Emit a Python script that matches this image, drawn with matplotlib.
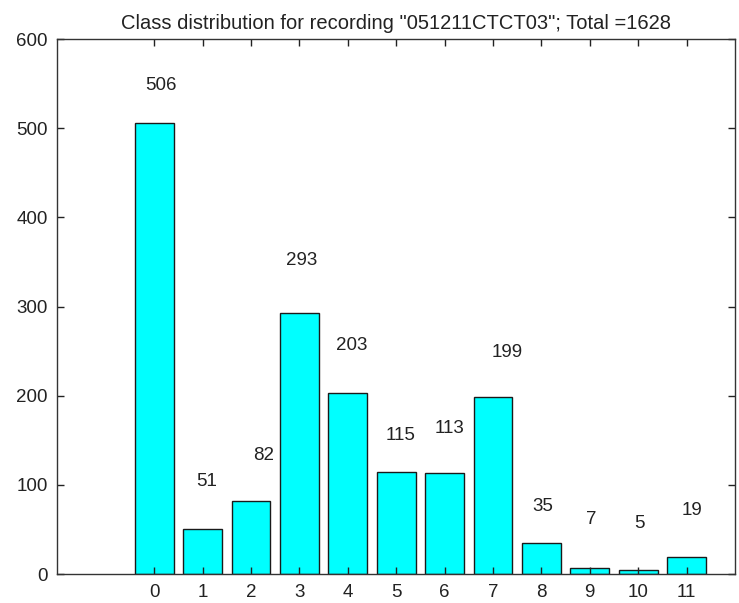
import matplotlib
matplotlib.use("Agg")
import matplotlib.pyplot as plt

# class counts
CLASSES = [0, 1, 2, 3, 4, 5, 6, 7, 8, 9, 10, 11]
COUNTS = [506, 51, 82, 293, 203, 115, 113, 199, 35, 7, 5, 19]

# where the count labels sit (data coords)
LABEL_X = [0.14, 1.09, 2.27, 3.05, 4.09, 5.10, 6.11, 7.29, 8.02, 9.03, 10.02, 11.11]
LABEL_Y = [548, 104, 133, 352, 256, 155, 163, 248, 76, 61, 57, 71]

TITLE = 'Class distribution for recording "051211CTCT03"; Total =1628'

plt.rcParams["font.family"] = ["Liberation Sans", "DejaVu Sans"]

fig = plt.figure(figsize=(7.39, 6.03), dpi=100)
ax = fig.add_axes([0.0776, 0.048, 0.917, 0.887])

ax.bar(CLASSES, COUNTS, width=0.8, color="#00ffff", edgecolor="#1a1a1a", linewidth=1.0)

for x, y, n in zip(LABEL_X, LABEL_Y, COUNTS):
    ax.text(x, y, str(n), ha="center", va="center", fontsize=13.5, color="#222222")

ax.set_xlim(-2, 12)
ax.set_ylim(0, 600)
ax.set_xticks(CLASSES)
ax.set_yticks(range(0, 601, 100))
ax.tick_params(direction="in", length=5, width=1, top=True, right=True,
               labelsize=13.5, colors="#222222", pad=7)
for s in ax.spines.values():
    s.set_color("#333333")
    s.set_linewidth(1.0)

ax.set_title(TITLE, fontsize=14.5, color="#222222", pad=7)

fig.savefig("out.png", dpi=100)
